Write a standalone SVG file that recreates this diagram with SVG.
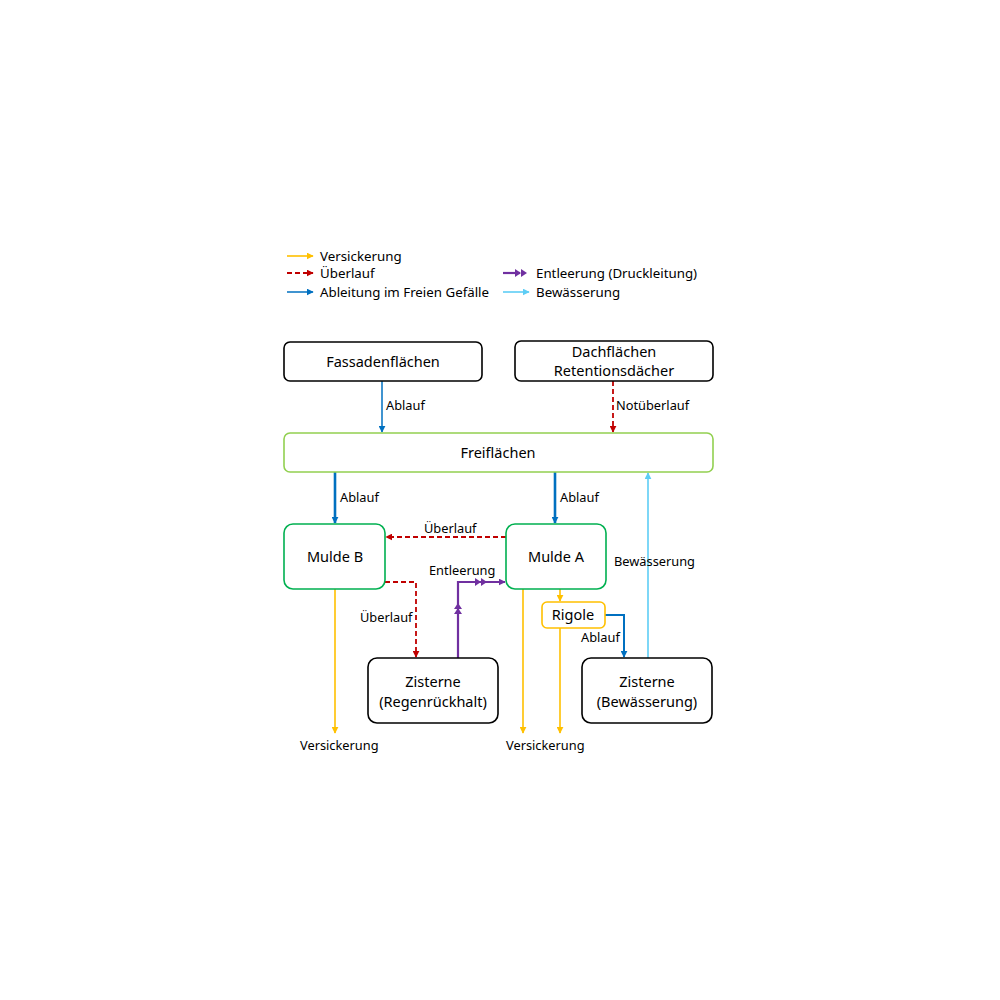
<svg xmlns="http://www.w3.org/2000/svg" width="1000" height="1000" viewBox="0 0 1000 1000">
<defs>
<marker id="aY" viewBox="0 0 10 10" refX="9" refY="5" markerWidth="7" markerHeight="7" markerUnits="userSpaceOnUse" orient="auto"><path d="M0,0 L10,5 L0,10 z" fill="#ffc000"/></marker>
<marker id="aR" viewBox="0 0 10 10" refX="9" refY="5" markerWidth="7" markerHeight="7" markerUnits="userSpaceOnUse" orient="auto"><path d="M0,0 L10,5 L0,10 z" fill="#c00000"/></marker>
<marker id="aB" viewBox="0 0 10 10" refX="9" refY="5" markerWidth="7" markerHeight="7" markerUnits="userSpaceOnUse" orient="auto"><path d="M0,0 L10,5 L0,10 z" fill="#0070c0"/></marker>
<marker id="aL" viewBox="0 0 10 10" refX="9" refY="5" markerWidth="7" markerHeight="7" markerUnits="userSpaceOnUse" orient="auto"><path d="M0,0 L10,5 L0,10 z" fill="#5dcdf5"/></marker>
<marker id="aP" viewBox="0 0 10 10" refX="9" refY="5" markerWidth="7" markerHeight="7" markerUnits="userSpaceOnUse" orient="auto"><path d="M0,0 L10,5 L0,10 z" fill="#7030a0"/></marker>
</defs>
<style>
.box{fill:#fff;stroke:#000;stroke-width:1.6}
.fr{fill:#fff;stroke:#92d050;stroke-width:1.6}
.mu{fill:#fff;stroke:#00b050;stroke-width:1.6}
.ri{fill:#fff;stroke:#ffc000;stroke-width:1.6}
text{font-family:"Noto Sans","Open Sans","DejaVu Sans",sans-serif;fill:#000}
.n{font-size:14.5px;text-anchor:middle}
.l{font-size:12.8px}
.g{font-size:13.3px}
.y{stroke:#ffc000;stroke-width:1.6;fill:none;marker-end:url(#aY)}
.r{stroke:#c00000;stroke-width:1.8;fill:none;stroke-dasharray:5,3;marker-end:url(#aR)}
.b{stroke:#0070c0;stroke-width:1.5;fill:none;marker-end:url(#aB)}
.bt{stroke:#0070c0;stroke-width:2.6;fill:none;marker-end:url(#aB)}
.lb{stroke:#5dcdf5;stroke-width:1.6;fill:none;marker-end:url(#aL)}
.p{stroke:#7030a0;stroke-width:2.2;fill:none}
</style>
<g id="legend">
<line class="y" x1="287" y1="256" x2="313" y2="256"/>
<text class="g" x="320" y="261">Versickerung</text>
<line class="r" x1="287" y1="273" x2="313" y2="273"/>
<text class="g" x="320" y="278">Überlauf</text>
<line class="b" x1="287" y1="292" x2="313" y2="292"/>
<text class="g" x="320" y="297">Ableitung im Freien Gefälle</text>
<line class="p" x1="503" y1="273" x2="520" y2="273"/>
<path d="M515,269 L521,273 L515,277 z M521,269 L527,273 L521,277 z" fill="#7030a0"/>
<text class="g" x="536" y="278">Entleerung (Druckleitung)</text>
<line class="lb" x1="503" y1="292" x2="529" y2="292"/>
<text class="g" x="536" y="297">Bewässerung</text>
</g>
<g id="connectors">
<line class="b" x1="382" y1="381" x2="382" y2="432"/>
<text class="l" x="386" y="410">Ablauf</text>
<line class="r" x1="613" y1="381" x2="613" y2="432"/>
<text class="l" x="616" y="410">Notüberlauf</text>
<line class="bt" x1="335" y1="472" x2="335" y2="523"/>
<text class="l" x="340" y="502">Ablauf</text>
<line class="bt" x1="555" y1="472" x2="555" y2="523"/>
<text class="l" x="560" y="502">Ablauf</text>
<line class="r" x1="506" y1="537" x2="386" y2="537"/>
<text class="l" x="424" y="533">Überlauf</text>
<polyline class="r" points="385,582 416,582 416,657"/>
<text class="l" x="360" y="622">Überlauf</text>
<polyline class="p" points="458,658 458,582 505,582" marker-end="url(#aP)"/>
<path d="M454,614 L458,608 L462,614 z M454,609 L458,603 L462,609 z" fill="#7030a0"/>
<path d="M475,578 L481,582 L475,586 z M481,578 L487,582 L481,586 z" fill="#7030a0"/>
<text class="l" x="429" y="575">Entleerung</text>
<line class="y" x1="335" y1="589" x2="335" y2="733"/>
<text class="l" x="300" y="750">Versickerung</text>
<line class="y" x1="523" y1="589" x2="523" y2="733"/>
<line class="y" x1="560" y1="589" x2="560" y2="601"/>
<line class="y" x1="560" y1="628" x2="560" y2="733"/>
<text class="l" x="506" y="750">Versickerung</text>
<polyline class="b" points="605,615 624,615 624,657" style="stroke-width:2"/>
<text class="l" x="581" y="642">Ablauf</text>
<line class="lb" x1="648" y1="658" x2="648" y2="473"/>
<text class="l" x="614" y="566">Bewässerung</text>
</g>
<g id="fassaden"><rect class="box" x="284" y="342" width="198" height="39" rx="6"/><text class="n" x="383" y="367">Fassadenflächen</text></g>
<g id="dach"><rect class="box" x="515" y="341" width="198" height="40" rx="6"/><text class="n" x="614" y="357">Dachflächen</text><text class="n" x="614" y="376">Retentionsdächer</text></g>
<g id="frei"><rect class="fr" x="284" y="433" width="429" height="39" rx="6"/><text class="n" x="498" y="458">Freiflächen</text></g>
<g id="muldeB"><rect class="mu" x="284" y="524" width="101" height="65" rx="9"/><text class="n" x="335" y="562">Mulde B</text></g>
<g id="muldeA"><rect class="mu" x="506" y="524" width="100" height="65" rx="9"/><text class="n" x="556" y="562">Mulde A</text></g>
<g id="rigole"><rect class="ri" x="542" y="602" width="63" height="26" rx="5"/><text class="n" x="573" y="620">Rigole</text></g>
<g id="zisterneR"><rect class="box" x="368" y="658" width="130" height="65" rx="9"/><text class="n" x="433" y="687">Zisterne</text><text class="n" x="433" y="707">(Regenrückhalt)</text></g>
<g id="zisterneB"><rect class="box" x="582" y="658" width="130" height="65" rx="9"/><text class="n" x="647" y="687">Zisterne</text><text class="n" x="647" y="707">(Bewässerung)</text></g>
</svg>
